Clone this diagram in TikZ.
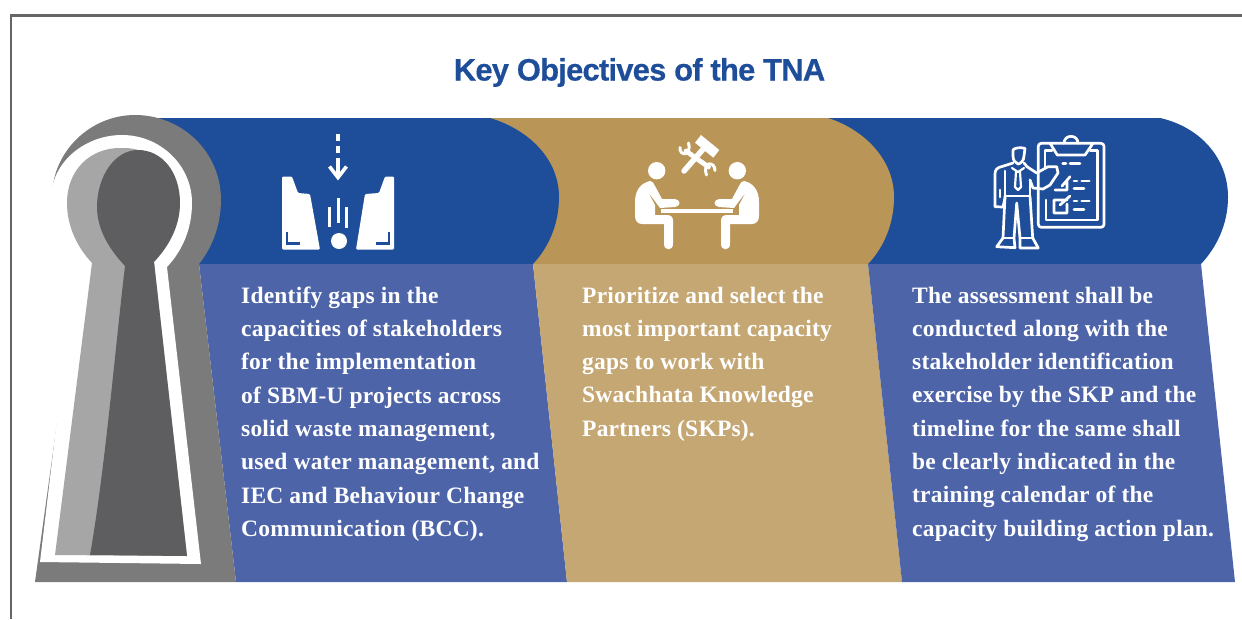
\documentclass[tikz,border=0pt]{standalone}
\usepackage{fontspec}
\setmainfont{Liberation Serif}
\newfontfamily\titlefont[LetterSpace=-2.6,FakeBold=0.5]{Liberation Sans}
\newfontfamily\bodyfont[LetterSpace=0.9]{Liberation Serif}
\definecolor{bandblue}{HTML}{1E4D99}
\definecolor{panelblue}{HTML}{4D64A9}
\definecolor{bandgold}{HTML}{B99557}
\definecolor{panelgold}{HTML}{C5A774}
\definecolor{keygray}{HTML}{7B7B7B}
\definecolor{keylight}{HTML}{A6A6A6}
\definecolor{keydark}{HTML}{5E5E60}
\definecolor{framegray}{HTML}{666666}
\tikzset{
  bodytext/.style={anchor=north west,inner sep=0pt,align=left,text=white,font=\bodyfont\bfseries\fontsize{23.5}{33.3}\selectfont},
  iconline/.style={draw=white,line width=2.7pt,line cap=round,line join=round},
}
\begin{document}
\begin{tikzpicture}[x=1pt,y=-1pt]
\useasboundingbox (0,0) rectangle (1242,619);
% frame
\draw[framegray,line width=2.6pt] (11,619) -- (11,15.5) -- (1242,15.5);
% title
\node[anchor=center,inner sep=0pt,text=bandblue,font=\titlefont\bfseries\fontsize{31}{36}\selectfont] (title) at (639.5,72.5) {Key Objectives of the TNA};
% bands
\fill[bandblue] (800,118) -- (1160,118) .. controls (1200,127) and (1228,158) .. (1228,197) .. controls (1228,225) and (1216,248) .. (1201,264) -- (800,264) -- cycle;
\fill[bandgold] (470,118) -- (828,118) .. controls (865,130) and (894,160) .. (894,197) .. controls (894,225) and (883,248) .. (868,264) -- (500,264) -- cycle;
\fill[bandblue] (150,118) -- (490,118) .. controls (530,130) and (559,160) .. (559,197) .. controls (559,225) and (548,248) .. (533,264) -- (199,264) -- cycle;
% panels
\fill[panelblue] (199,264) -- (533,264) -- (567,582) -- (236,582) -- cycle;
\fill[panelgold] (533,264) -- (868,264) -- (902,582) -- (567,582) -- cycle;
\fill[panelblue] (868,264) -- (1201,264) -- (1235,582) -- (902,582) -- cycle;
% keyhole
\fill[keygray] (35,582) -- (236,582) -- (199,264) .. controls (212,248) and (221,225) .. (221,200) .. controls (221,152) and (182,115) .. (135,115) .. controls (90,115) and (52,152) .. (52,197) .. controls (52,222) and (62,244) .. (79.6,260) -- cycle;
\fill[white] (40,562) -- (201,564) -- (167,267) .. controls (183,250) and (192,228) .. (192,203) .. controls (192,165) and (160,135) .. (122,135) .. controls (85,135) and (52,162) .. (51,197) .. controls (51,222) and (62,244) .. (76,260) -- cycle;
\fill[keylight] (55,555) -- (187,556) -- (154,262) -- (138,150) .. controls (132,148) and (126,148) .. (120,148) .. controls (90,148) and (67,170) .. (67,203) .. controls (67,226) and (77,247) .. (92,263) -- cycle;
\fill[keydark] (90,555) -- (187,556) -- (154,262) .. controls (170,245) and (180,225) .. (180,203) .. controls (180,172) and (162,150) .. (138,150) .. controls (115,150) and (97,176) .. (97,207) .. controls (97,230) and (110,250) .. (125,266) .. controls (115,350) and (105,470) .. (90,555) -- cycle;
% icon 1: gap
\draw[white,line width=3.6pt] (338,134) -- (338,141) (338,146) -- (338,153) (338,158) -- (338,176);
\draw[white,line width=3.6pt,line join=miter] (329.5,166.5) -- (338,177.5) -- (346.5,166.5);
\fill[white,rounded corners=1.2pt] (282,249.5) -- (282,176.5) -- (292,176.5) -- (298,193) -- (310,194) -- (320,249.5) -- cycle;
\fill[white,rounded corners=1.2pt] (394,249.5) -- (394,176.5) -- (385,176.5) -- (379,193) -- (365,194) -- (356,249.5) -- cycle;
\draw[bandblue,line width=2.8pt] (287,232) -- (287,243.5) -- (300,243.5);
\draw[bandblue,line width=2.8pt] (389,232) -- (389,243.5) -- (376,243.5);
\draw[white,line width=3pt] (329.5,207) -- (329.5,227) (338,198) -- (338,223) (346.5,207) -- (346.5,228);
\fill[white] (339,241) circle[radius=8pt];
% icon 2: people at a table
\foreach \flip/\sh in {1/0,-1/1394}{
\begin{scope}[shift={(\sh,0)},xscale=\flip]
\fill[white] (656.7,170.7) circle[radius=8.7pt];
\fill[white] (650,181) .. controls (641,183) and (635,190) .. (635,202) -- (635,216) .. controls (635,221) and (638,224) .. (642,224) -- (664,224) -- (664,244) .. controls (664,251) and (673,251) .. (673,244) -- (673,221) .. controls (673,217) and (671,215) .. (667,215) -- (655,215) -- (655,205) -- (648,192) -- (660,208) -- (675,207) .. controls (681,206) and (681,200) .. (675,199) -- (662,199) -- (655,186) .. controls (654,183) and (652,181) .. (650,181) -- cycle;
\end{scope}}
\fill[white] (661,209) rectangle (733,212.5);
% tools
\draw[white,line width=5.5pt,line cap=round] (705,147) -- (684,171);
\fill[white] (695,142.7) -- (701,135) -- (719.3,150) -- (713.3,157.7) -- cycle;
\draw[white,line width=4.8pt,line cap=round] (686,151) -- (708.5,167);
\draw[white,line width=3pt,line cap=round] (680,147.5) .. controls (679,156) and (692,157) .. (688.5,143);
\draw[white,line width=3pt,line cap=round] (715,170.5) .. controls (715,161) and (702,161) .. (706.5,175);
% icon 3: man and clipboard
\draw[iconline,rounded corners=3pt] (1050,143.3) -- (1038.3,143.3) -- (1038.3,227.3) -- (1104,227.3) -- (1104,143.3) -- (1093,143.3);
\draw[iconline] (1064,143.3) .. controls (1064,134) and (1078,134) .. (1078,143.3);
\draw[iconline] (1050,143.3) -- (1093,143.3) -- (1085,155) -- (1057.3,155) -- cycle;
\draw[iconline] (1052,150.7) -- (1045,150.7) -- (1045,168);
\draw[iconline] (1046,200) -- (1046,220) -- (1097.3,220) -- (1097.3,150.7) -- (1090,150.7);
\draw[iconline] (1062.7,163.3) -- (1066,163.3) (1070,163.3) -- (1080,163.3);
\draw[iconline] (1074,181) -- (1077,181) (1081.7,181) -- (1089.3,181) (1074,188.3) -- (1084,188.3);
\draw[iconline] (1074,201) -- (1077,201) (1081.7,201) -- (1089.3,201) (1074,209.3) -- (1084,209.3);
\draw[iconline] (1055,190) -- (1067,190) -- (1067,181.7) (1062,186) -- (1070,176.7);
\draw[iconline] (1067,200) -- (1054,200) -- (1054,213) -- (1067,213) -- (1067,204) (1060,205) -- (1070,196);
% man
\draw[iconline] (1013,156) -- (1013,150) .. controls (1014,148) and (1020,147) .. (1025,148.3) -- (1024,156) .. controls (1024,161) and (1020,164) .. (1018,164) .. controls (1015,163) and (1013,160) .. (1013,156);
\draw[iconline] (1013,163) -- (1002,166.5) .. controls (997,167.5) and (995,170) .. (995,174) -- (995,206.7) -- (1003,207) -- (1005,198);
\draw[iconline] (1005,171) -- (1005,196) -- (1030,196) -- (1030,180) (1000,190) -- (1000,197);
\draw[iconline] (1024,163) -- (1027,166.7) -- (1036.7,173) -- (1048,166.7) -- (1056.7,166.7) -- (1058,173) -- (1050,185) -- (1043,189) -- (1033,188) -- (1030,180);
\draw[iconline] (1005,196) -- (1003,238) -- (996.7,246.7) -- (1015,247.7) -- (1014,238) -- (1016.7,203) -- (1020,238) -- (1020,248) -- (1038.3,248) -- (1032.7,238) -- (1030,196);
\draw[iconline] (1003,238) -- (1014,238) (1020,238) -- (1032.7,238);
\draw[iconline,line width=2.2pt] (1012,168) -- (1018,172) -- (1024,168) (1016,172) -- (1015,187) -- (1018,190) -- (1021,187) -- (1020,172);
% texts
\node[bodytext] (t1) at (241,286.5) {Identify gaps in the\\capacities of stakeholders\\for the implementation\\of SBM-U projects across\\solid waste management,\\used water management, and\\IEC and Behaviour Change\\Communication (BCC).};
\node[bodytext] (t2) at (582,286.5) {Prioritize and select the\\most important capacity\\gaps to work with\\Swachhata Knowledge\\Partners (SKPs).};
\node[bodytext] (t3) at (912,286.5) {The assessment shall be\\conducted along with the\\stakeholder identification\\exercise by the SKP and the\\timeline for the same shall\\be clearly indicated in the\\training calendar of the\\capacity building action plan.};
\end{tikzpicture}
\end{document}
